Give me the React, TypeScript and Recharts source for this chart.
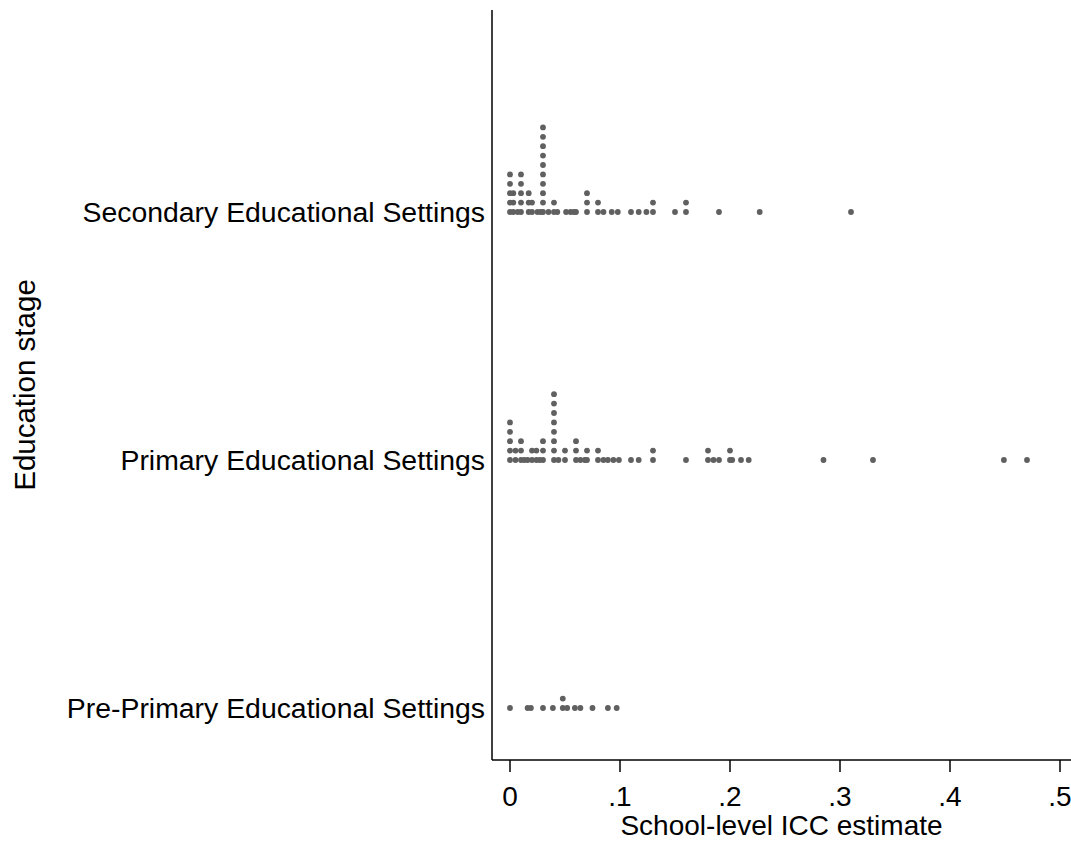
import React from 'react';
import { ScatterChart, Scatter, XAxis, YAxis, Label } from 'recharts';

const categories = [
  'Pre-Primary Educational Settings',
  'Primary Educational Settings',
  'Secondary Educational Settings',
];

const secondaryIcc = [
  0, 0, 0, 0, 0,
  0.003, 0.003, 0.003, 0.007,
  0.01, 0.01, 0.01, 0.01, 0.01,
  0.017, 0.017, 0.017,
  0.02, 0.02,
  0.025, 0.028,
  0.03, 0.03, 0.03, 0.03, 0.03, 0.03, 0.03, 0.03, 0.03, 0.03,
  0.035, 0.04, 0.04, 0.043,
  0.051, 0.055, 0.058, 0.06,
  0.07, 0.07, 0.07,
  0.08, 0.08,
  0.085, 0.0925, 0.098,
  0.11, 0.117, 0.124,
  0.13, 0.13,
  0.15, 0.16, 0.16,
  0.19, 0.227, 0.31,
];

const primaryIcc = [
  0, 0, 0, 0, 0,
  0.005, 0.005,
  0.01, 0.01, 0.01,
  0.013, 0.016,
  0.02, 0.02, 0.024, 0.024, 0.027,
  0.03, 0.03, 0.03,
  0.04, 0.04, 0.04, 0.04, 0.04, 0.04, 0.04, 0.04,
  0.044, 0.05, 0.05,
  0.06, 0.06, 0.06, 0.064, 0.068,
  0.07, 0.07,
  0.08, 0.08,
  0.085, 0.089, 0.094, 0.099,
  0.11, 0.117,
  0.13, 0.13,
  0.16,
  0.18, 0.18, 0.185, 0.19,
  0.2, 0.2, 0.202,
  0.21, 0.217,
  0.285, 0.33, 0.449, 0.47,
];

const prePrimaryIcc = [
  0, 0.016, 0.019, 0.03, 0.039,
  0.048, 0.048, 0.052,
  0.059, 0.064, 0.075, 0.089, 0.097,
];

const xTicks = [0, 0.1, 0.2, 0.3, 0.4, 0.5];
const xTickLabels = ['0', '.1', '.2', '.3', '.4', '.5'];
const yTicks = [0, 1, 2];

const STACK_STEP = 0.0379;
const FONT = '"Liberation Sans", Arial, Helvetica, sans-serif';
const DOT = '#606060';

function stackDots(values: number[], catIndex: number) {
  const counts = new Map<string, number>();
  return values.map((v) => {
    const k = v.toFixed(4);
    const n = counts.get(k) ?? 0;
    counts.set(k, n + 1);
    return { x: v, y: catIndex + n * STACK_STEP };
  });
}

const preData = stackDots(prePrimaryIcc, 0);
const priData = stackDots(primaryIcc, 1);
const secData = stackDots(secondaryIcc, 2);

const Dot = (props: any) => {
  const { cx, cy } = props;
  if (cx == null || cy == null) return <g />;
  return <circle cx={cx} cy={cy} r={2.9} fill={DOT} />;
};

export default function App() {
  return (
    <div style={{ position: 'absolute', left: 0, top: 0, width: 1071, height: 841, background: '#fff' }}>
      <ScatterChart width={1071} height={841} margin={{ top: 10, right: 0, bottom: 0, left: 0 }}>
        <XAxis
          type="number"
          dataKey="x"
          domain={[-0.01636, 0.51]}
          allowDataOverflow
          ticks={xTicks}
          tickFormatter={(v: number) => xTickLabels[xTicks.indexOf(v)] ?? String(v)}
          height={81}
          tickSize={12}
          tickMargin={14}
          axisLine={{ stroke: '#000', strokeWidth: 1.5 }}
          tickLine={{ stroke: '#000', strokeWidth: 1.5 }}
          tick={{ fill: '#000', fontSize: 28, fontFamily: FONT }}
        >
          <Label
            value="School-level ICC estimate"
            position="insideBottom"
            offset={6}
            style={{ fill: '#000', fontSize: 28, fontFamily: FONT }}
          />
        </XAxis>
        <YAxis
          type="number"
          dataKey="y"
          domain={[-0.2097, 2.8145]}
          allowDataOverflow
          ticks={yTicks}
          tickFormatter={(v: number) => categories[v] ?? ''}
          width={492}
          tickSize={0}
          tickMargin={7}
          tickLine={false}
          axisLine={{ stroke: '#000', strokeWidth: 1.5 }}
          tick={{ fill: '#000', fontSize: 28.4, fontFamily: FONT }}
        >
          <Label
            value="Education stage"
            angle={-90}
            position="insideLeft"
            offset={25}
            style={{ fill: '#000', fontSize: 29.5, fontFamily: FONT, textAnchor: 'middle' }}
          />
        </YAxis>
        <Scatter data={preData} shape={Dot} isAnimationActive={false} />
        <Scatter data={priData} shape={Dot} isAnimationActive={false} />
        <Scatter data={secData} shape={Dot} isAnimationActive={false} />
      </ScatterChart>
    </div>
  );
}
